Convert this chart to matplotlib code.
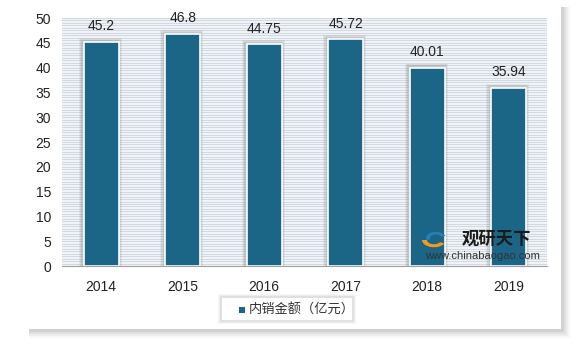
import numpy as np
import matplotlib.pyplot as plt
from matplotlib.patches import Rectangle, Wedge

plt.rcParams['font.family'] = ['Liberation Sans', 'Noto Sans CJK SC', 'DejaVu Sans']

# Data
# ----
years = ['2014', '2015', '2016', '2017', '2018', '2019']
sales = [45.2, 46.8, 44.75, 45.72, 40.01, 35.94]
value_labels = ['45.2', '46.8', '44.75', '45.72', '40.01', '35.94']
series_name = '内销金额（亿元）'

bar_color = '#1b6587'

W, H = 577, 348
fig = plt.figure(figsize=(W / 100, H / 100), dpi=100)
fig.patch.set_facecolor('white')


def px(x0, y0, x1, y1):
    # pixel box -> figure fraction rectangle args
    return (x0 / W, 1 - y1 / H), (x1 - x0) / W, (y1 - y0) / H


def add_rect(x0, y0, x1, y1, **kw):
    xy, w, h = px(x0, y0, x1, y1)
    fig.patches.append(Rectangle(xy, w, h, transform=fig.transFigure,
                                 edgecolor='none', **kw))


# Card with soft shadow
# ---------------------
for d, a in [(9, 0.03), (7, 0.04), (5, 0.05), (3, 0.06)]:
    add_rect(27 + 2, 5 + 2, 561 + d, 329 + d, facecolor='black', alpha=a, zorder=0)
add_rect(27, 5, 561, 329, facecolor='white', zorder=1)

# Axes
# ----
ax = fig.add_axes([62 / W, 1 - 266 / H, (547 - 62) / W, (266 - 18) / H])
ax.set_zorder(2)
ax.set_facecolor('#f0f3f7')

x = np.arange(len(years))
ax.set_xlim(-0.48, 5.47)
ax.set_ylim(0, 50)

for yy in np.arange(0.5, 50.01, 0.5):
    ax.axhline(yy, color='#d3d9e0', lw=0.7, zorder=0)

# soft bar shadows (up and to the left)
for xi, v in zip(x, sales):
    for g, a in [(0.05, 0.10), (0.035, 0.14), (0.02, 0.18)]:
        ax.add_patch(Rectangle((xi - 0.215 - g - 0.01, 0), 0.43 + 2 * g, v + g * 12 + 0.2,
                               facecolor='#808080', alpha=a, edgecolor='none', zorder=1))
ax.bar(x, sales, width=0.43, color=bar_color, edgecolor='white', linewidth=1.2,
       zorder=2, label=series_name)

for xi, v, t in zip(x, sales, value_labels):
    ax.text(xi, v + 1.7, t, ha='center', va='bottom', fontsize=10, color='#222222', zorder=3)

ax.set_xticks(x)
ax.set_xticklabels(years)
ax.set_yticks(np.arange(0, 51, 5))
ax.tick_params(length=0, labelsize=10, colors='#222222', pad=8)
ax.tick_params(axis='x', pad=10)
for s in ['top', 'right', 'left']:
    ax.spines[s].set_visible(False)
ax.spines['bottom'].set_color('#a0a0a0')

# Watermark
fig.text(497 / W, 1 - 239 / H, '观研天下', fontsize=12.5, fontweight='bold',
         family=['Noto Sans CJK SC'], color='#1a1a1a', ha='center', va='center', zorder=5)
fig.text(482 / W, 1 - 256 / H, 'www.chinabaogao.com', fontsize=8,
         color='#333333', ha='center', va='center', zorder=5)
fig.patches.append(Wedge((434 / W, 1 - 240 / H), 12 / W, 180, 330, width=5 / W,
                         transform=fig.transFigure, facecolor='#f29a1e', edgecolor='none', zorder=5))
fig.patches.append(Wedge((436 / W, 1 - 238 / H), 10 / W, 20, 200, width=4 / W,
                         transform=fig.transFigure, facecolor='#2a7fb8', edgecolor='none', zorder=5))

# Legend
# ------
for d, a in [(4, 0.03), (3, 0.04), (2, 0.05)]:
    add_rect(222 - d, 298 - d, 352 + d, 320 + d, facecolor='black', alpha=a, zorder=2)
add_rect(222, 298, 352, 320, facecolor='white', zorder=3)
add_rect(239, 307, 245, 313, facecolor=bar_color, zorder=4)
fig.text(249 / W, 1 - 310 / H, series_name, fontsize=9.5, color='#333333',
         family=['Noto Sans CJK SC'], va='center', ha='left', zorder=5)

fig.savefig('out.png', dpi=100)
